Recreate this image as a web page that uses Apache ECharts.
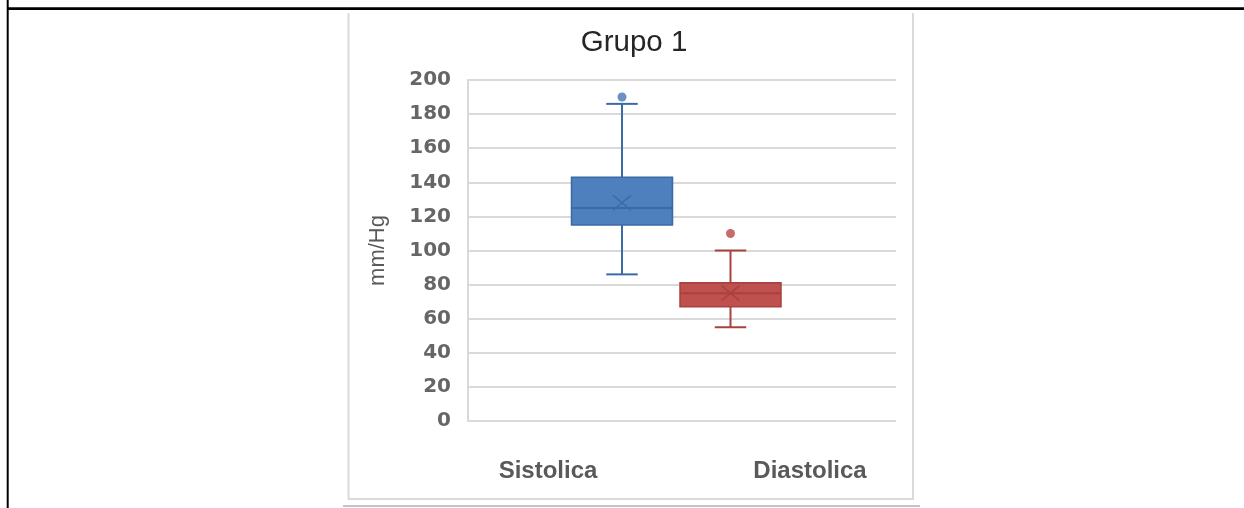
<!DOCTYPE html>
<html>
<head>
<meta charset="utf-8">
<script src="https://cdn.jsdelivr.net/npm/echarts@6/dist/echarts.min.js"></script>
<style>
html,body{margin:0;padding:0;background:#fff;}
#chart{width:1244px;height:508px;}
</style>
</head>
<body>
<div id="chart"></div>
<script>
// ---- data ----
const chartTitle = 'Grupo 1';
const yAxisName = 'mm/Hg';
const categories = ['Sistolica', 'Diastolica'];
const yMin = 0, yMax = 200, yStep = 20;
const whiskerLow  = [86, 55];
const quartile1   = [115, 67];
const medians     = [125, 75];
const quartile3   = [143, 81];
const whiskerHigh = [186, 100];
const means       = [128, 75];
const outlierCategory = [0, 1];
const outlierValue    = [190, 110];

// ---- styles ----
const COLORS = [
  { fill: '#4e80bd', line: '#3b6aa6', dot: '#4674b4' },
  { fill: '#c0504d', line: '#a8423f', dot: '#b94744' }
];

const boxData = categories.map((c, i) => [i, whiskerLow[i], quartile1[i], medians[i], quartile3[i], whiskerHigh[i], means[i]]);
const outlierData = outlierCategory.map((c, i) => [c, outlierValue[i]]);

function renderBox(params, api) {
  const i = api.value(0);
  const band = api.size([1, 0])[0];
  const bw = band * 0.93;
  const cw = band * 0.29;
  const col = COLORS[i];
  const pLo = api.coord([i, api.value(1)]);
  const pQ1 = api.coord([i, api.value(2)]);
  const pMed = api.coord([i, api.value(3)]);
  const pQ3 = api.coord([i, api.value(4)]);
  const pHi = api.coord([i, api.value(5)]);
  const pMean = api.coord([i, api.value(6)]);
  const x = pMed[0];
  const ls = { stroke: col.line, lineWidth: 2, fill: null };
  const mx = 9, my = 7.5;
  return {
    type: 'group',
    children: [
      { type: 'line', shape: { x1: x, y1: pQ3[1], x2: x, y2: pHi[1] }, style: ls },
      { type: 'line', shape: { x1: x, y1: pQ1[1], x2: x, y2: pLo[1] }, style: ls },
      { type: 'line', shape: { x1: x - cw / 2, y1: pHi[1], x2: x + cw / 2, y2: pHi[1] }, style: ls },
      { type: 'line', shape: { x1: x - cw / 2, y1: pLo[1], x2: x + cw / 2, y2: pLo[1] }, style: ls },
      { type: 'rect', shape: { x: x - bw / 2, y: pQ3[1], width: bw, height: pQ1[1] - pQ3[1] },
        style: { fill: col.fill, stroke: col.line, lineWidth: 1.6 } },
      { type: 'line', shape: { x1: x - bw / 2, y1: pMed[1], x2: x + bw / 2, y2: pMed[1] }, style: ls },
      { type: 'line', shape: { x1: pMean[0] - mx, y1: pMean[1] - my, x2: pMean[0] + mx, y2: pMean[1] + my },
        style: { stroke: col.line, lineWidth: 1.6 } },
      { type: 'line', shape: { x1: pMean[0] - mx, y1: pMean[1] + my, x2: pMean[0] + mx, y2: pMean[1] - my },
        style: { stroke: col.line, lineWidth: 1.6 } }
    ]
  };
}

const chart = echarts.init(document.getElementById('chart'), null, { renderer: 'canvas' });
const FONT = '"Liberation Sans", Arial, sans-serif';
const option = {
  backgroundColor: '#ffffff',
  animation: false,
  title: {
    text: chartTitle,
    left: 629,
    top: 23,
    textAlign: 'center',
    textStyle: { fontFamily: FONT, fontSize: 29.5, fontWeight: 'normal', color: '#262626' }
  },
  grid: [
    { left: 468, right: 348, top: 80, bottom: 87 },
    { left: 567.75, width: 217, top: 80, bottom: 87 }
  ],
  xAxis: [
    {
      type: 'category', gridIndex: 0, data: categories,
      axisLine: { show: false }, axisTick: { show: false },
      axisLabel: {
        margin: 38,
        formatter: v => v === categories[0] ? '{a|' + v + '}' : '{b|' + v + '}',
        rich: {
          a: { fontFamily: FONT, fontSize: 24, fontWeight: 'bold', color: '#595959', padding: [0, 54, 0, 0] },
          b: { fontFamily: FONT, fontSize: 24, fontWeight: 'bold', color: '#595959', padding: [0, 0, 0, 42] }
        }
      }
    },
    {
      type: 'category', gridIndex: 1, data: categories, show: false
    }
  ],
  yAxis: [
    {
      type: 'value', gridIndex: 0, min: yMin, max: yMax, interval: yStep,
      name: yAxisName, nameLocation: 'middle', nameGap: 79, nameRotate: 90,
      nameTextStyle: { fontFamily: FONT, fontSize: 22, color: '#595959' },
      axisLine: { show: true, lineStyle: { color: '#d9d9d9', width: 2 } },
      axisTick: { show: false },
      axisLabel: { margin: 17, fontFamily: '"DejaVu Sans", sans-serif', fontSize: 20, fontWeight: 'bold', color: '#666666' },
      splitLine: { show: true, lineStyle: { color: '#d9d9d9', width: 2 } }
    },
    {
      type: 'value', gridIndex: 1, min: yMin, max: yMax, interval: yStep, show: false,
      splitLine: { show: false }
    }
  ],
  series: [
    {
      type: 'custom', xAxisIndex: 1, yAxisIndex: 1,
      data: boxData, renderItem: renderBox,
      encode: { x: 0, y: [1, 2, 3, 4, 5, 6] }
    },
    {
      type: 'scatter', xAxisIndex: 1, yAxisIndex: 1,
      data: outlierData, symbol: 'circle', symbolSize: 9,
      itemStyle: { color: p => COLORS[p.data[0]].dot }
    }
  ],
  graphic: [
    { type: 'line', shape: { x1: 7, y1: 8.6, x2: 1244, y2: 8.6 }, style: { stroke: '#000', lineWidth: 2.6 } },
    { type: 'line', shape: { x1: 7.7, y1: 0, x2: 7.7, y2: 508 }, style: { stroke: '#000', lineWidth: 2 } },
    { type: 'line', shape: { x1: 348.5, y1: 13, x2: 348.5, y2: 499 }, style: { stroke: '#dadada', lineWidth: 2 } },
    { type: 'line', shape: { x1: 913, y1: 13, x2: 913, y2: 499 }, style: { stroke: '#dadada', lineWidth: 2 } },
    { type: 'line', shape: { x1: 348, y1: 499, x2: 914, y2: 499 }, style: { stroke: '#dadada', lineWidth: 2 } },
    { type: 'line', shape: { x1: 343, y1: 506, x2: 920, y2: 506 }, style: { stroke: '#c4c4c4', lineWidth: 2 } }
  ]
};
chart.setOption(option);
</script>
</body>
</html>
